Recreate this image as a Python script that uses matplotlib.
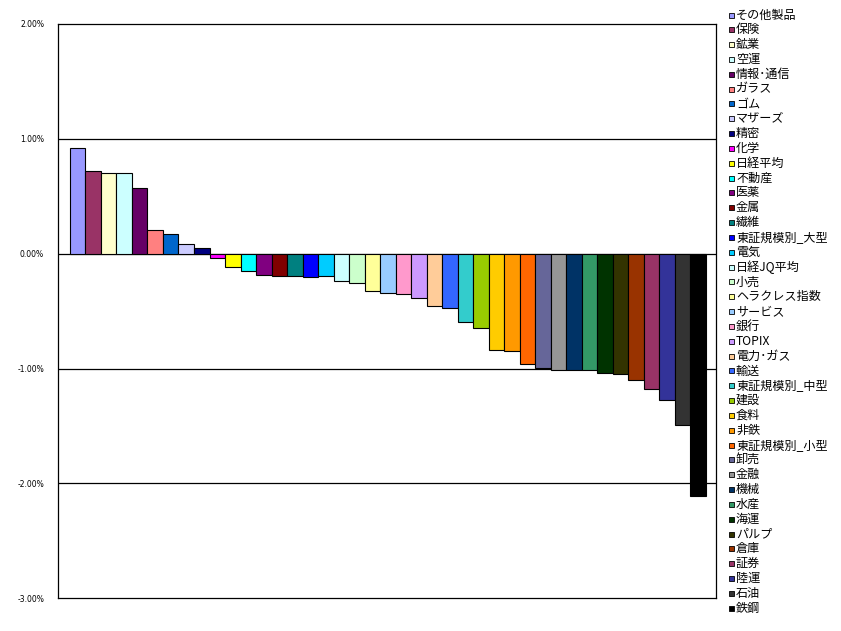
import matplotlib
matplotlib.use("Agg")
import matplotlib.pyplot as plt
from matplotlib.patches import Rectangle
from matplotlib.ticker import FuncFormatter

categories = ["その他製品", "保険", "鉱業", "空運", "情報･通信", "ガラス", "ゴム", "マザーズ", "精密", "化学",
              "日経平均", "不動産", "医薬", "金属", "繊維", "東証規模別_大型", "電気", "日経JQ平均", "小売", "ヘラクレス指数",
              "サービス", "銀行", "TOPIX", "電力･ガス", "輸送", "東証規模別_中型", "建設", "食料", "非鉄", "東証規模別_小型",
              "卸売", "金融", "機械", "水産", "海運", "パルプ", "倉庫", "証券", "陸運", "石油", "鉄鋼"]
values = [0.92, 0.72, 0.70, 0.70, 0.575, 0.21, 0.175, 0.087, 0.046, -0.035,
          -0.113, -0.148, -0.185, -0.192, -0.19, -0.20, -0.198, -0.235, -0.253, -0.322,
          -0.34, -0.348, -0.386, -0.453, -0.47, -0.592, -0.645, -0.838, -0.85, -0.956,
          -0.998, -1.015, -1.015, -1.015, -1.035, -1.044, -1.097, -1.176, -1.272, -1.491, -2.11]
colors = ["#9999FF", "#993366", "#FFFFCC", "#CCFFFF", "#660066", "#FF8080", "#0066CC", "#CCCCFF", "#000080", "#FF00FF",
          "#FFFF00", "#00FFFF", "#800080", "#800000", "#008080", "#0000FF", "#00CCFF", "#CCFFFF", "#CCFFCC", "#FFFF99",
          "#99CCFF", "#FF99CC", "#CC99FF", "#FFCC99", "#3366FF", "#33CCCC", "#99CC00", "#FFCC00", "#FF9900", "#FF6600",
          "#666699", "#969696", "#003366", "#339966", "#003300", "#333300", "#993300", "#993366", "#333399", "#333333", "#000000"]
yticks = [-3, -2, -1, 0, 1, 2]

plt.rcParams['font.family'] = ['Noto Sans CJK JP', 'DejaVu Sans']

W, H = 841, 631
fig = plt.figure(figsize=(W / 100, H / 100), dpi=100)
ax = fig.add_axes([58 / W, (H - 598.3) / H, (716 - 58) / W, (598.3 - 24) / H])

x = list(range(len(values)))
ax.bar(x, values, width=1.0, color=colors, edgecolor="black", linewidth=0.8, zorder=3)
ax.set_xlim(-1.27, 41.16)
ax.set_ylim(-3, 2)
ax.set_yticks(yticks)
ax.yaxis.set_major_formatter(FuncFormatter(lambda v, p: f"{v:.2f}%"))
ax.tick_params(axis="y", length=0, labelsize=5.5, pad=10, labelfontfamily="DejaVu Sans")
ax.set_xticks([])
for s in ax.spines.values():
    s.set_linewidth(0.9)
    s.set_color("black")
for t in yticks[1:-1]:
    ax.axhline(t, color="black", linewidth=0.9, zorder=2)

# legend
y0 = 15.0
dy = 14.83
for i, (lab, c) in enumerate(zip(categories, colors)):
    yc = y0 + i * dy
    fig.patches.append(Rectangle((729 / W, (H - yc - 2.5) / H), 5 / W, 5 / H,
                                 transform=fig.transFigure, facecolor=c,
                                 edgecolor="black", linewidth=0.6))
    fig.text(736 / W, (H - yc) / H, lab, fontsize=8.7, va="center", ha="left")

fig.savefig("out.png", dpi=100)
